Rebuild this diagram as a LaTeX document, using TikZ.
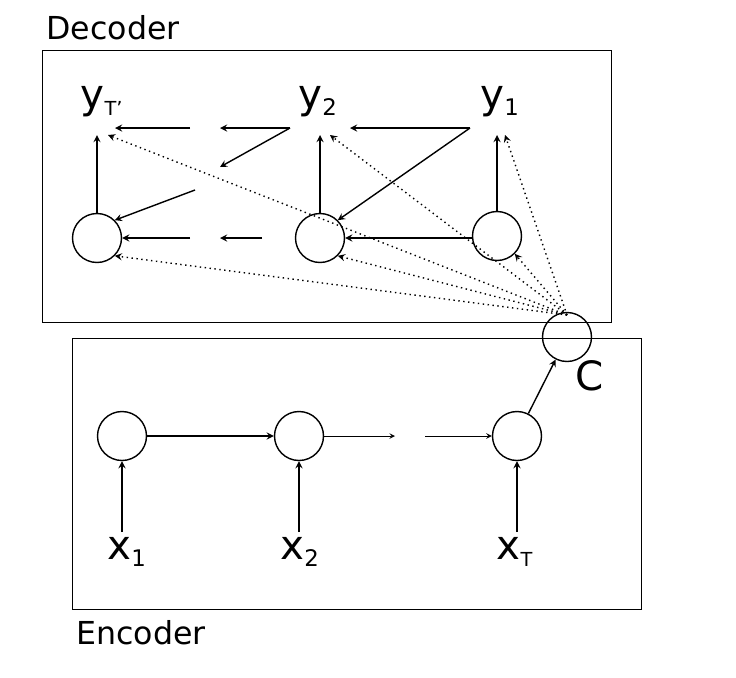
\documentclass[tikz,border=0pt]{standalone}
\usepackage{fontspec}
\setmainfont{DejaVu Sans}
\usepackage{tikz}
\tikzset{unit/.style={draw,circle,minimum size=0.98cm,inner sep=0pt,thick},
	box/.style={draw,thick},
	lbl/.style={font=\fontsize{23}{25}\selectfont},
	con/.style={->,>=stealth,thick},
	ctx/.style={->,>=stealth,thick,dotted}}
\begin{document}
\begin{tikzpicture}[x=0.02cm,y=-0.02cm]
	\useasboundingbox (0,0) rectangle (736,677);
	\draw (42,50) node(dec) [box,minimum width=11.38cm,minimum height=5.44cm,anchor=north west] {};
	\draw (72,338) node(enc) [box,minimum width=11.38cm,minimum height=5.42cm,anchor=north west] {};
	\draw (113,28) node(tdec) {\fontsize{18}{20}\selectfont Decoder};
	\draw (141,633) node(tenc) {\fontsize{18}{20}\selectfont Encoder};
	\draw (97,238) node(s3) [unit] {};
	\draw (320,238) node(s2) [unit] {};
	\draw (497,236) node(s1) [unit] {};
	\draw (102,102) node(y3) [lbl] {y\textsubscript{\fontsize{11}{11}\selectfont T'}};
	\draw (318,102) node(y2) [lbl] {y\textsubscript{\fontsize{13}{13}\selectfont 2}};
	\draw (500,102) node(y1) [lbl] {y\textsubscript{\fontsize{13}{13}\selectfont 1}};
	\draw (567,337) node(c) [unit] {};
	\draw (590,376) node(tc) [lbl] {C};
	\draw (122,436) node(h1) [unit] {};
	\draw (299,436) node(h2) [unit] {};
	\draw (517,436) node(h3) [unit] {};
	\draw (127,552) node(x1) [lbl] {x\textsubscript{\fontsize{13}{13}\selectfont 1}};
	\draw (300,552) node(x2) [lbl] {x\textsubscript{\fontsize{13}{13}\selectfont 2}};
	\draw (515,552) node(x3) [lbl] {x\textsubscript{\fontsize{11}{11}\selectfont T}};
	\coordinate (t3) at (97,135);
	\coordinate (t2) at (320,135);
	\coordinate (t1) at (497,135);
	\coordinate (b3) at (122,532);
	\coordinate (b2) at (299,532);
	\coordinate (b1) at (517,532);
	\coordinate (p1) at (470,128);
	\coordinate (p2) at (290,128);
	\coordinate (p3) at (190,128);
	\coordinate (p4) at (195,190);
	\coordinate (p5) at (262,238);
	\coordinate (p6) at (190,238);
	\coordinate (p7) at (395,436);
	\coordinate (p8) at (425,436);
	\coordinate (p9) at (472,238);
	\coordinate (c0) at (567,315);
	% decoder
	\path[draw,con] (s3) -- (t3);
	\path[draw,con] (s2) -- (t2);
	\path[draw,con] (s1) -- (t1);
	\path[draw,con] (p9) -- (s2);
	\path[draw,con] (p5) -- (220,238);
	\path[draw,con] (p6) -- (s3);
	\path[draw,con] (p1) -- (350,128);
	\path[draw,con] (p1) -- (s2.north east);
	\path[draw,con] (p2) -- (220,128);
	\path[draw,con] (p3) -- (115,128);
	\path[draw,con] (p2) -- (220,167);
	\path[draw,con] (p4) -- (s3.north east);
	% context
	\path[draw,ctx] (c0) -- (108,135);
	\path[draw,ctx] (c0) -- (330,135);
	\path[draw,ctx] (c0) -- (505,135);
	\path[draw,ctx] (c0) -- (s3.south east);
	\path[draw,ctx] (c0) -- (s2.south east);
	\path[draw,ctx] (c0) -- (s1.south east);
	% encoder
	\path[draw,con] (h1) -- (h2);
	\path[draw,->,>=stealth] (h2) -- (p7);
	\path[draw,->,>=stealth] (p8) -- (h3);
	\path[draw,con] (h3) -- (c);
	\path[draw,con] (b1) -- (h3);
	\path[draw,con] (b2) -- (h2);
	\path[draw,con] (b3) -- (h1);
\end{tikzpicture}
\end{document}
